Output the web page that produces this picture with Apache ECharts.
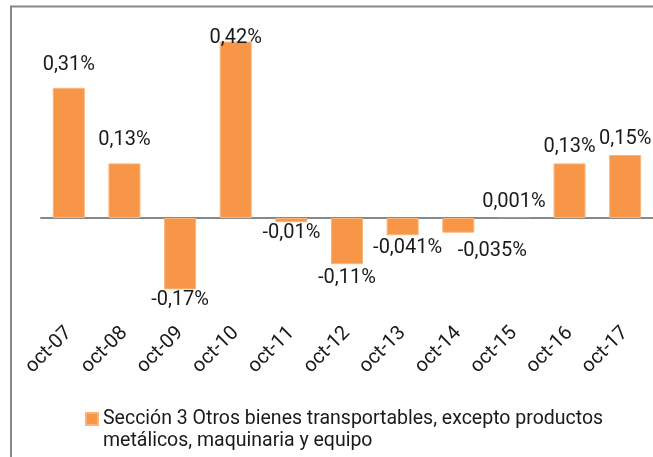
<!DOCTYPE html>
<html>
<head>
<meta charset="utf-8">
<script src="https://cdn.jsdelivr.net/npm/echarts@6/dist/echarts.min.js"></script>
<style>
  html, body { margin: 0; padding: 0; background: #fff; }
  #chart { width: 653px; height: 457px; }
</style>
</head>
<body>
<div id="chart"></div>
<script>
// categorias (eje X)
var categories = ['oct-07', 'oct-08', 'oct-09', 'oct-10', 'oct-11', 'oct-12', 'oct-13', 'oct-14', 'oct-15', 'oct-16', 'oct-17'];
// variacion (%)
var values = [0.31, 0.13, -0.17, 0.42, -0.01, -0.11, -0.041, -0.035, 0.001, 0.13, 0.15];
var seriesName = 'Sección 3 Otros bienes transportables, excepto productos\nmetálicos, maquinaria y equipo';

// ajustes manuales de etiquetas (como en el original)
var labelNudge = {0: [0, -7], 1: [0, -7], 5: [0, 3], 6: [5, 2], 7: [34, 7]};

var maxVal = Math.max.apply(null, values);
var chart = echarts.init(document.getElementById('chart'));
var option = {
    animation: false,
    backgroundColor: '#fff',
    textStyle: {fontFamily: 'Roboto'},
    graphic: [
        {
            type: 'rect',
            shape: {x: 11, y: 6.5, width: 700, height: 500},
            style: {fill: 'none', stroke: '#888888', lineWidth: 2},
            z: -1
        }
    ],
    grid: {left: 41, width: 616, top: 29, height: 294},
    legend: {
        left: 85,
        top: 386,
        padding: 0,
        itemWidth: 12,
        itemHeight: 12,
        icon: 'rect',
        data: [seriesName],
        formatter: function (name) {
            //linea vacia arriba para que el icono quede con la primera linea
            return '\n' + name;
        },
        textStyle: {
            fontFamily: 'Roboto',
            fontSize: 19.5,
            color: '#1a1a1a',
            lineHeight: 22
        }
    },
    xAxis: [
        {
            type: 'category',
            data: categories,
            position: 'bottom',
            axisLine: {show: false, onZero: false},
            axisTick: {show: false},
            axisLabel: {rotate: 45, margin: 7, fontSize: 20, color: '#1a1a1a', fontFamily: 'Roboto', interval: 0}
        },
        {
            type: 'category',
            data: categories,
            position: 'bottom',
            axisLine: {show: true, onZero: true, lineStyle: {color: '#888888', width: 2}},
            axisTick: {show: false},
            axisLabel: {show: false}
        }
    ],
    yAxis: {
        type: 'value',
        min: -0.25,
        max: 0.45,
        show: false,
        splitLine: {show: false}
    },
    series: [
        {
            name: seriesName,
            type: 'bar',
            xAxisIndex: 0,
            barWidth: 32,
            itemStyle: {color: '#F79646', borderColor: '#F9B47E', borderWidth: 1},
            label: {
                show: true,
                fontSize: 20,
                fontFamily: 'Roboto',
                color: '#1a1a1a',
                formatter: function (p) {
                    return String(p.value).replace('.', ',') + '%';
                }
            },
            data: values.map(function (v, i) {
                var lbl = v >= 0 ? {position: 'top', distance: 6} : {position: 'bottom', distance: 1};
                //etiqueta dentro del area cuando no cabe arriba
                if (v === maxVal) lbl = {position: 'top', distance: -6};
                if (labelNudge[i]) lbl.offset = labelNudge[i];
                var item = {value: v, label: lbl};
                //barra casi nula: sin borde
                if (Math.abs(v) < 0.005) item.itemStyle = {borderWidth: 0};
                return item;
            })
        }
    ]
};
chart.setOption(option);
</script>
</body>
</html>
